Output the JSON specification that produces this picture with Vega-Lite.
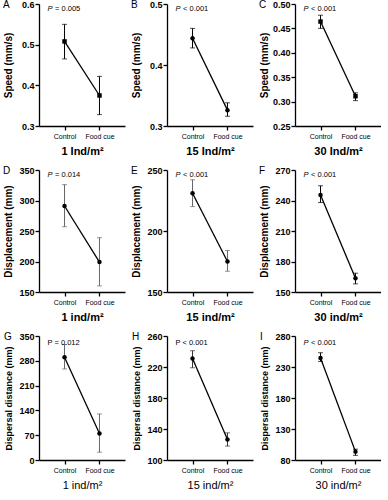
{
  "$schema": "https://vega.github.io/schema/vega-lite/v6.json",
  "padding": {"left": 3, "top": 0, "right": 0, "bottom": 0},
  "datasets": {
    "d": [
      {"panel": "A", "group": "Control", "mean": 0.508, "lo": 0.465, "hi": 0.55},
      {"panel": "A", "group": "Food cue", "mean": 0.375, "lo": 0.328, "hi": 0.422},
      {"panel": "B", "group": "Control", "mean": 0.444, "lo": 0.428, "hi": 0.46},
      {"panel": "B", "group": "Food cue", "mean": 0.326, "lo": 0.316, "hi": 0.338},
      {"panel": "C", "group": "Control", "mean": 0.464, "lo": 0.45, "hi": 0.477},
      {"panel": "C", "group": "Food cue", "mean": 0.311, "lo": 0.302, "hi": 0.318},
      {"panel": "D", "group": "Control", "mean": 291, "lo": 257, "hi": 326},
      {"panel": "D", "group": "Food cue", "mean": 199, "lo": 160, "hi": 239},
      {"panel": "E", "group": "Control", "mean": 231, "lo": 220, "hi": 242},
      {"panel": "E", "group": "Food cue", "mean": 175, "lo": 167, "hi": 184},
      {"panel": "F", "group": "Control", "mean": 245.5, "lo": 238, "hi": 254.5},
      {"panel": "F", "group": "Food cue", "mean": 163.5, "lo": 158, "hi": 168.5},
      {"panel": "G", "group": "Control", "mean": 290, "lo": 257, "hi": 326},
      {"panel": "G", "group": "Food cue", "mean": 75, "lo": 22, "hi": 130},
      {"panel": "H", "group": "Control", "mean": 231, "lo": 219, "hi": 241},
      {"panel": "H", "group": "Food cue", "mean": 126.5, "lo": 118, "hi": 135},
      {"panel": "I", "group": "Control", "mean": 244.5, "lo": 239, "hi": 253},
      {"panel": "I", "group": "Food cue", "mean": 93.5, "lo": 87.5, "hi": 97.5}
    ]
  },
  "columns": 3,
  "spacing": {"row": 10, "column": 6},
  "concat": [
    {
      "title": "A", "width": 86, "height": 122, "data": {"name": "d"},
      "transform": [{"filter": "datum.panel === 'A'"}],
      "encoding": {
        "x": {"field": "group", "type": "nominal", "sort": ["Control", "Food cue"], "scale": {"type": "point", "padding": 0.73}, "axis": {"title": "1 Ind/m²"}},
        "y": {"field": "mean", "type": "quantitative", "scale": {"domain": [0.3, 0.6], "nice": false, "zero": false}, "axis": {"title": "Speed (mm/s)", "values": [0.3, 0.4, 0.5, 0.6], "format": ".1f"}}
      },
      "layer": [
        {"mark": {"type": "rule", "color": "black", "strokeWidth": 1}, "encoding": {"y": {"field": "lo", "type": "quantitative"}, "y2": {"field": "hi"}}},
        {"mark": {"type": "tick", "color": "black", "size": 5, "thickness": 1}, "encoding": {"y": {"field": "lo", "type": "quantitative"}}},
        {"mark": {"type": "tick", "color": "black", "size": 5, "thickness": 1}, "encoding": {"y": {"field": "hi", "type": "quantitative"}}},
        {"mark": {"type": "line", "color": "black", "strokeWidth": 1.3}, "encoding": {}},
        {"mark": {"type": "point", "filled": true, "color": "black", "size": 20, "opacity": 1, "shape": "square"}, "encoding": {}},
        {"transform": [{"filter": "datum.group === 'Control'"}], "mark": {"type": "text", "text": "P", "fontStyle": "italic", "fontSize": 7.5, "align": "left", "baseline": "top", "dx": -17, "dy": 1}, "encoding": {"x": {"datum": "Control"}, "y": {"datum": 0.6}}},
        {"transform": [{"filter": "datum.group === 'Control'"}], "mark": {"type": "text", "text": "= 0.005", "fontSize": 7.5, "align": "left", "baseline": "top", "dx": -9.5, "dy": 1}, "encoding": {"x": {"datum": "Control"}, "y": {"datum": 0.6}}}
      ]
    },
    {
      "title": "B", "width": 86, "height": 122, "data": {"name": "d"},
      "transform": [{"filter": "datum.panel === 'B'"}],
      "encoding": {
        "x": {"field": "group", "type": "nominal", "sort": ["Control", "Food cue"], "scale": {"type": "point", "padding": 0.73}, "axis": {"title": "15 Ind/m²"}},
        "y": {"field": "mean", "type": "quantitative", "scale": {"domain": [0.3, 0.5], "nice": false, "zero": false}, "axis": {"title": "Speed (mm/s)", "values": [0.3, 0.4, 0.5], "format": ".1f"}}
      },
      "layer": [
        {"mark": {"type": "rule", "color": "black", "strokeWidth": 1}, "encoding": {"y": {"field": "lo", "type": "quantitative"}, "y2": {"field": "hi"}}},
        {"mark": {"type": "tick", "color": "black", "size": 5, "thickness": 1}, "encoding": {"y": {"field": "lo", "type": "quantitative"}}},
        {"mark": {"type": "tick", "color": "black", "size": 5, "thickness": 1}, "encoding": {"y": {"field": "hi", "type": "quantitative"}}},
        {"mark": {"type": "line", "color": "black", "strokeWidth": 1.3}, "encoding": {}},
        {"mark": {"type": "point", "filled": true, "color": "black", "size": 20, "opacity": 1}, "encoding": {}},
        {"transform": [{"filter": "datum.group === 'Control'"}], "mark": {"type": "text", "text": "P", "fontStyle": "italic", "fontSize": 7.5, "align": "left", "baseline": "top", "dx": -17, "dy": 1}, "encoding": {"x": {"datum": "Control"}, "y": {"datum": 0.5}}},
        {"transform": [{"filter": "datum.group === 'Control'"}], "mark": {"type": "text", "text": "< 0.001", "fontSize": 7.5, "align": "left", "baseline": "top", "dx": -9.5, "dy": 1}, "encoding": {"x": {"datum": "Control"}, "y": {"datum": 0.5}}}
      ]
    },
    {
      "title": "C", "width": 86, "height": 122, "data": {"name": "d"},
      "transform": [{"filter": "datum.panel === 'C'"}],
      "encoding": {
        "x": {"field": "group", "type": "nominal", "sort": ["Control", "Food cue"], "scale": {"type": "point", "padding": 0.73}, "axis": {"title": "30 Ind/m²"}},
        "y": {"field": "mean", "type": "quantitative", "scale": {"domain": [0.25, 0.5], "nice": false, "zero": false}, "axis": {"title": "Speed (mm/s)", "values": [0.25, 0.3, 0.35, 0.4, 0.45, 0.5], "format": ".2f"}}
      },
      "layer": [
        {"mark": {"type": "rule", "color": "black", "strokeWidth": 1}, "encoding": {"y": {"field": "lo", "type": "quantitative"}, "y2": {"field": "hi"}}},
        {"mark": {"type": "tick", "color": "black", "size": 5, "thickness": 1}, "encoding": {"y": {"field": "lo", "type": "quantitative"}}},
        {"mark": {"type": "tick", "color": "black", "size": 5, "thickness": 1}, "encoding": {"y": {"field": "hi", "type": "quantitative"}}},
        {"mark": {"type": "line", "color": "black", "strokeWidth": 1.3}, "encoding": {}},
        {"mark": {"type": "point", "filled": true, "color": "black", "size": 20, "opacity": 1, "shape": "square"}, "encoding": {}},
        {"transform": [{"filter": "datum.group === 'Control'"}], "mark": {"type": "text", "text": "P", "fontStyle": "italic", "fontSize": 7.5, "align": "left", "baseline": "top", "dx": -17, "dy": 1}, "encoding": {"x": {"datum": "Control"}, "y": {"datum": 0.5}}},
        {"transform": [{"filter": "datum.group === 'Control'"}], "mark": {"type": "text", "text": "< 0.001", "fontSize": 7.5, "align": "left", "baseline": "top", "dx": -9.5, "dy": 1}, "encoding": {"x": {"datum": "Control"}, "y": {"datum": 0.5}}}
      ]
    },
    {
      "title": "D", "width": 86, "height": 122, "data": {"name": "d"},
      "transform": [{"filter": "datum.panel === 'D'"}],
      "encoding": {
        "x": {"field": "group", "type": "nominal", "sort": ["Control", "Food cue"], "scale": {"type": "point", "padding": 0.73}, "axis": {"title": "1 ind/m²"}},
        "y": {"field": "mean", "type": "quantitative", "scale": {"domain": [150, 350], "nice": false, "zero": false}, "axis": {"title": "Displacement (mm)", "values": [150, 200, 250, 300, 350]}}
      },
      "layer": [
        {"mark": {"type": "rule", "color": "#666", "strokeWidth": 1}, "encoding": {"y": {"field": "lo", "type": "quantitative"}, "y2": {"field": "hi"}}},
        {"mark": {"type": "tick", "color": "#666", "size": 5, "thickness": 1}, "encoding": {"y": {"field": "lo", "type": "quantitative"}}},
        {"mark": {"type": "tick", "color": "#666", "size": 5, "thickness": 1}, "encoding": {"y": {"field": "hi", "type": "quantitative"}}},
        {"mark": {"type": "line", "color": "black", "strokeWidth": 1.3}, "encoding": {}},
        {"mark": {"type": "point", "filled": true, "color": "black", "size": 20, "opacity": 1}, "encoding": {}},
        {"transform": [{"filter": "datum.group === 'Control'"}], "mark": {"type": "text", "text": "P", "fontStyle": "italic", "fontSize": 7.5, "align": "left", "baseline": "top", "dx": -17, "dy": 1}, "encoding": {"x": {"datum": "Control"}, "y": {"datum": 350}}},
        {"transform": [{"filter": "datum.group === 'Control'"}], "mark": {"type": "text", "text": "= 0.014", "fontSize": 7.5, "align": "left", "baseline": "top", "dx": -9.5, "dy": 1}, "encoding": {"x": {"datum": "Control"}, "y": {"datum": 350}}}
      ]
    },
    {
      "title": "E", "width": 86, "height": 122, "data": {"name": "d"},
      "transform": [{"filter": "datum.panel === 'E'"}],
      "encoding": {
        "x": {"field": "group", "type": "nominal", "sort": ["Control", "Food cue"], "scale": {"type": "point", "padding": 0.73}, "axis": {"title": "15 ind/m²"}},
        "y": {"field": "mean", "type": "quantitative", "scale": {"domain": [150, 250], "nice": false, "zero": false}, "axis": {"title": "Displacement (mm)", "values": [150, 200, 250]}}
      },
      "layer": [
        {"mark": {"type": "rule", "color": "#666", "strokeWidth": 1}, "encoding": {"y": {"field": "lo", "type": "quantitative"}, "y2": {"field": "hi"}}},
        {"mark": {"type": "tick", "color": "#666", "size": 5, "thickness": 1}, "encoding": {"y": {"field": "lo", "type": "quantitative"}}},
        {"mark": {"type": "tick", "color": "#666", "size": 5, "thickness": 1}, "encoding": {"y": {"field": "hi", "type": "quantitative"}}},
        {"mark": {"type": "line", "color": "black", "strokeWidth": 1.3}, "encoding": {}},
        {"mark": {"type": "point", "filled": true, "color": "black", "size": 20, "opacity": 1}, "encoding": {}},
        {"transform": [{"filter": "datum.group === 'Control'"}], "mark": {"type": "text", "text": "P", "fontStyle": "italic", "fontSize": 7.5, "align": "left", "baseline": "top", "dx": -17, "dy": 1}, "encoding": {"x": {"datum": "Control"}, "y": {"datum": 250}}},
        {"transform": [{"filter": "datum.group === 'Control'"}], "mark": {"type": "text", "text": "< 0.001", "fontSize": 7.5, "align": "left", "baseline": "top", "dx": -9.5, "dy": 1}, "encoding": {"x": {"datum": "Control"}, "y": {"datum": 250}}}
      ]
    },
    {
      "title": "F", "width": 86, "height": 122, "data": {"name": "d"},
      "transform": [{"filter": "datum.panel === 'F'"}],
      "encoding": {
        "x": {"field": "group", "type": "nominal", "sort": ["Control", "Food cue"], "scale": {"type": "point", "padding": 0.73}, "axis": {"title": "30 ind/m²"}},
        "y": {"field": "mean", "type": "quantitative", "scale": {"domain": [150, 270], "nice": false, "zero": false}, "axis": {"title": "Displacement (mm)", "values": [150, 180, 210, 240, 270]}}
      },
      "layer": [
        {"mark": {"type": "rule", "color": "black", "strokeWidth": 1}, "encoding": {"y": {"field": "lo", "type": "quantitative"}, "y2": {"field": "hi"}}},
        {"mark": {"type": "tick", "color": "black", "size": 5, "thickness": 1}, "encoding": {"y": {"field": "lo", "type": "quantitative"}}},
        {"mark": {"type": "tick", "color": "black", "size": 5, "thickness": 1}, "encoding": {"y": {"field": "hi", "type": "quantitative"}}},
        {"mark": {"type": "line", "color": "black", "strokeWidth": 1.3}, "encoding": {}},
        {"mark": {"type": "point", "filled": true, "color": "black", "size": 20, "opacity": 1}, "encoding": {}},
        {"transform": [{"filter": "datum.group === 'Control'"}], "mark": {"type": "text", "text": "P", "fontStyle": "italic", "fontSize": 7.5, "align": "left", "baseline": "top", "dx": -17, "dy": 1}, "encoding": {"x": {"datum": "Control"}, "y": {"datum": 270}}},
        {"transform": [{"filter": "datum.group === 'Control'"}], "mark": {"type": "text", "text": "< 0.001", "fontSize": 7.5, "align": "left", "baseline": "top", "dx": -9.5, "dy": 1}, "encoding": {"x": {"datum": "Control"}, "y": {"datum": 270}}}
      ]
    },
    {
      "title": "G", "width": 86, "height": 124, "data": {"name": "d"},
      "transform": [{"filter": "datum.panel === 'G'"}],
      "encoding": {
        "x": {"field": "group", "type": "nominal", "sort": ["Control", "Food cue"], "scale": {"type": "point", "padding": 0.73}, "axis": {"title": "1 ind/m²", "titleFontWeight": "normal"}},
        "y": {"field": "mean", "type": "quantitative", "scale": {"domain": [0, 350], "nice": false, "zero": false}, "axis": {"title": "Dispersal distance (mm)", "titleFontSize": 9, "values": [0, 70, 140, 210, 280, 350]}}
      },
      "layer": [
        {"mark": {"type": "rule", "color": "#666", "strokeWidth": 1}, "encoding": {"y": {"field": "lo", "type": "quantitative"}, "y2": {"field": "hi"}}},
        {"mark": {"type": "tick", "color": "#666", "size": 5, "thickness": 1}, "encoding": {"y": {"field": "lo", "type": "quantitative"}}},
        {"mark": {"type": "tick", "color": "#666", "size": 5, "thickness": 1}, "encoding": {"y": {"field": "hi", "type": "quantitative"}}},
        {"mark": {"type": "line", "color": "black", "strokeWidth": 1.3}, "encoding": {}},
        {"mark": {"type": "point", "filled": true, "color": "black", "size": 20, "opacity": 1}, "encoding": {}},
        {"transform": [{"filter": "datum.group === 'Control'"}], "mark": {"type": "text", "text": "P = 0.012", "fontSize": 7.5, "align": "left", "baseline": "top", "dx": -17, "dy": 3}, "encoding": {"x": {"datum": "Control"}, "y": {"datum": 350}}}
      ]
    },
    {
      "title": "H", "width": 86, "height": 124, "data": {"name": "d"},
      "transform": [{"filter": "datum.panel === 'H'"}],
      "encoding": {
        "x": {"field": "group", "type": "nominal", "sort": ["Control", "Food cue"], "scale": {"type": "point", "padding": 0.73}, "axis": {"title": "15 ind/m²", "titleFontWeight": "normal"}},
        "y": {"field": "mean", "type": "quantitative", "scale": {"domain": [100, 260], "nice": false, "zero": false}, "axis": {"title": "Dispersal distance (mm)", "titleFontSize": 9, "values": [100, 140, 180, 220, 260]}}
      },
      "layer": [
        {"mark": {"type": "rule", "color": "#333", "strokeWidth": 1}, "encoding": {"y": {"field": "lo", "type": "quantitative"}, "y2": {"field": "hi"}}},
        {"mark": {"type": "tick", "color": "#333", "size": 5, "thickness": 1}, "encoding": {"y": {"field": "lo", "type": "quantitative"}}},
        {"mark": {"type": "tick", "color": "#333", "size": 5, "thickness": 1}, "encoding": {"y": {"field": "hi", "type": "quantitative"}}},
        {"mark": {"type": "line", "color": "black", "strokeWidth": 1.3}, "encoding": {}},
        {"mark": {"type": "point", "filled": true, "color": "black", "size": 20, "opacity": 1}, "encoding": {}},
        {"transform": [{"filter": "datum.group === 'Control'"}], "mark": {"type": "text", "text": "P < 0.001", "fontSize": 7.5, "align": "left", "baseline": "top", "dx": -17, "dy": 3}, "encoding": {"x": {"datum": "Control"}, "y": {"datum": 260}}}
      ]
    },
    {
      "title": "I", "width": 86, "height": 124, "data": {"name": "d"},
      "transform": [{"filter": "datum.panel === 'I'"}],
      "encoding": {
        "x": {"field": "group", "type": "nominal", "sort": ["Control", "Food cue"], "scale": {"type": "point", "padding": 0.73}, "axis": {"title": "30 ind/m²", "titleFontWeight": "normal"}},
        "y": {"field": "mean", "type": "quantitative", "scale": {"domain": [80, 280], "nice": false, "zero": false}, "axis": {"title": "Dispersal distance (mm)", "titleFontSize": 9, "values": [80, 130, 180, 230, 280]}}
      },
      "layer": [
        {"mark": {"type": "rule", "color": "black", "strokeWidth": 1}, "encoding": {"y": {"field": "lo", "type": "quantitative"}, "y2": {"field": "hi"}}},
        {"mark": {"type": "tick", "color": "black", "size": 5, "thickness": 1}, "encoding": {"y": {"field": "lo", "type": "quantitative"}}},
        {"mark": {"type": "tick", "color": "black", "size": 5, "thickness": 1}, "encoding": {"y": {"field": "hi", "type": "quantitative"}}},
        {"mark": {"type": "line", "color": "black", "strokeWidth": 1.3}, "encoding": {}},
        {"mark": {"type": "point", "filled": true, "color": "black", "size": 20, "opacity": 1}, "encoding": {}},
        {"transform": [{"filter": "datum.group === 'Control'"}], "mark": {"type": "text", "text": "P", "fontStyle": "italic", "fontSize": 7.5, "align": "left", "baseline": "top", "dx": -17, "dy": 3}, "encoding": {"x": {"datum": "Control"}, "y": {"datum": 280}}},
        {"transform": [{"filter": "datum.group === 'Control'"}], "mark": {"type": "text", "text": "< 0.001", "fontSize": 7.5, "align": "left", "baseline": "top", "dx": -9.5, "dy": 3}, "encoding": {"x": {"datum": "Control"}, "y": {"datum": 280}}}
      ]
    }
  ],
  "config": {
    "font": "Liberation Sans",
    "view": {"stroke": null},
    "axis": {"grid": false, "domainColor": "black", "tickColor": "black", "labelColor": "black", "titleColor": "black", "domainWidth": 1.3, "tickWidth": 1.3},
    "axisY": {"labelFontSize": 9, "labelFontWeight": "bold", "titleFontSize": 10, "titleFontWeight": "bold", "tickSize": 4, "labelPadding": 1, "minExtent": 24, "maxExtent": 24, "titlePadding": 2},
    "axisX": {"labelFontSize": 7, "labelAngle": 0, "tickSize": 4, "labelPadding": 2, "titleFontSize": 11, "titleFontWeight": "bold", "titlePadding": 6},
    "title": {"fontSize": 10, "fontWeight": "normal", "anchor": "start", "frame": "bounds", "offset": -10}
  }
}
